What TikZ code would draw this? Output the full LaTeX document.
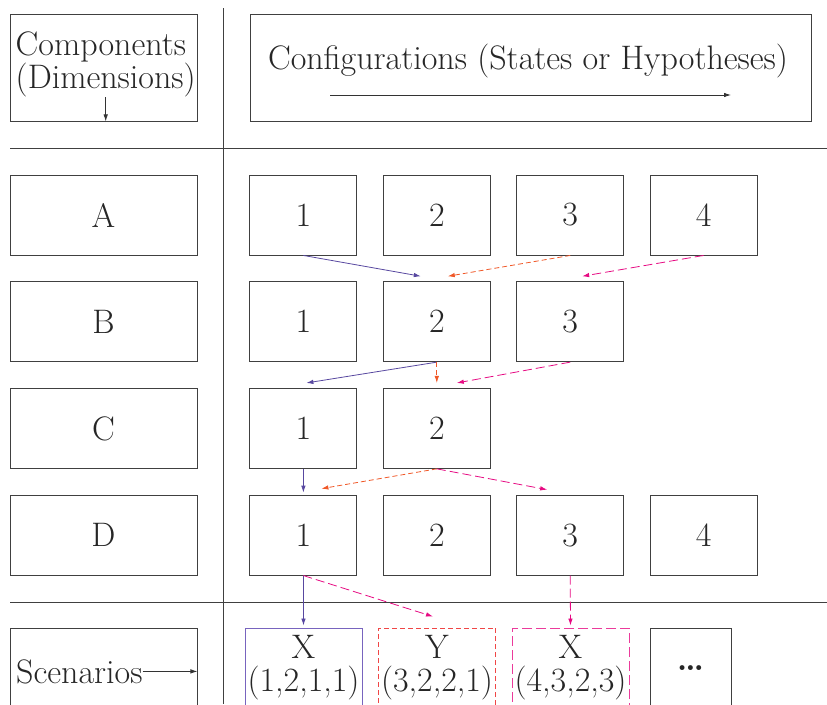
\documentclass[tikz,border=0pt]{standalone}
\usetikzlibrary{arrows.meta}
\definecolor{cfgpurple}{RGB}{88,72,160}
\definecolor{cfgorange}{RGB}{240,88,40}
\definecolor{cfgpink}{RGB}{230,10,130}
\definecolor{cfgred}{RGB}{240,70,70}
\definecolor{cfglilac}{RGB}{120,100,190}
\tikzset{
  cell/.style={draw=black!75, line width=0.9pt, minimum width=107pt, minimum height=80pt,
    inner sep=0pt, text=black!85, font=\fontsize{34}{33}\selectfont, align=center},
  labcell/.style={cell, minimum width=187pt},
  plain/.style={inner sep=0pt, text=black!85, font=\fontsize{34}{31}\selectfont},
  sepline/.style={draw=black!75, line width=0.9pt},
  tip/.style={-{Latex[length=7pt,width=4.5pt]}, line width=0.8pt},
  blackarc/.style={tip, draw=black!80},
  purplearc/.style={tip, draw=cfgpurple},
  orangearc/.style={tip, draw=cfgorange, dash pattern=on 5pt off 3pt},
  pinkarc/.style={tip, draw=cfgpink, dash pattern=on 9pt off 4pt}
}
\begin{document}
\begin{tikzpicture}[x=1pt,y=-1pt]
        \useasboundingbox (0,0) rectangle (827,704);
        \def\x{133.4}
        \def\y{106.7}
        % header
        \node[labcell, minimum height=107pt] (H_0) at (103.5,67.5) {};
        \node[plain, anchor=north west, align=left] (H_0t) at ([xshift=6pt,yshift=-18pt]H_0.north west) {Components\\(Dimensions)};
        \node[cell, minimum width=561pt, minimum height=107pt] (H_1) at (530.5,67.5) {};
        \node[plain, anchor=base] (H_1t) at (528,69) {Configurations (States or Hypotheses)};
        \coordinate (cfgL) at (330,95);
        \coordinate (cfgR) at (731,95);
        \draw[blackarc] (H_0t.south) -- (H_0t.south |- H_0.south);
        \draw[blackarc] (cfgL) -- (cfgR);
        % separators
        \draw[sepline] (223,8) -- (223,704);
        \draw[sepline] (10,148) -- (827,148);
        \draw[sepline] (10,602) -- (827,602);
        % components
        \node[labcell] (A_0) at (103.5, 108.3+1*\y) {A};
        \node[labcell] (B_0) at (103.5, 108.3+2*\y) {B};
        \node[labcell] (C_0) at (103.5, 108.3+3*\y) {C};
        \node[labcell] (D_0) at (103.5, 108.3+4*\y) {D};
        % configurations
        \foreach \i in {1,...,4} \node[cell] (A_\i) at (170+\i*\x, 108.3+1*\y) {\i};
        \foreach \i in {1,...,3} \node[cell] (B_\i) at (170+\i*\x, 108.3+2*\y) {\i};
        \foreach \i in {1,...,2} \node[cell] (C_\i) at (170+\i*\x, 108.3+3*\y) {\i};
        \foreach \i in {1,...,4} \node[cell] (D_\i) at (170+\i*\x, 108.3+4*\y) {\i};
        % scenarios
        \node[labcell] (S_0) at (103.5,668) {};
        \node[plain, anchor=base west] (S_0t) at (16,683) {Scenarios};
        \draw[blackarc] (S_0t.east) -- (S_0t.east -| S_0.east);
        \node[cell, minimum width=117pt, draw=cfglilac] (S_1) at (303.5,668) {X\\(1,2,1,1)};
        \node[cell, minimum width=117pt, draw=cfgred, dash pattern=on 5pt off 3pt] (S_2) at (437,668) {Y\\(3,2,2,1)};
        \node[cell, minimum width=117pt, draw=cfgpink!80, dash pattern=on 10pt off 4pt] (S_3) at (570.5,668) {X\\(4,3,2,3)};
        \node[cell, minimum width=81pt] (S_4) at (690.5,668) {\textbf{\dots}};
        % paths
        \path (A_1.south) edge [purplearc] ([xshift=-16pt,yshift=5pt]B_2.north);
        \path (A_3.south) edge [orangearc] ([xshift=11pt,yshift=5pt]B_2.north);
        \path (A_4.south) edge [pinkarc] ([xshift=12pt,yshift=5pt]B_3.north);
        \path (B_2.south) edge [purplearc] ([xshift=3pt,yshift=5pt]C_1.north);
        \path (B_2.south) edge [orangearc] ([yshift=5pt]C_2.north);
        \path (B_3.south) edge [pinkarc] ([xshift=20pt,yshift=5pt]C_2.north);
        \path (C_1.south) edge [purplearc] ([yshift=2pt]D_1.north);
        \path (C_2.south) edge [orangearc] ([xshift=18pt,yshift=6pt]D_1.north);
        \path (C_2.south) edge [pinkarc] ([xshift=-23pt,yshift=5pt]D_3.north);
        \path (D_1.south) edge [purplearc] ([yshift=2pt]S_1.north);
        \path (D_1.south) edge [pinkarc] ([xshift=-4pt,yshift=11pt]S_2.north);
        \path (D_3.south) edge [pinkarc] ([yshift=2pt]S_3.north);
      \end{tikzpicture}
\end{document}
